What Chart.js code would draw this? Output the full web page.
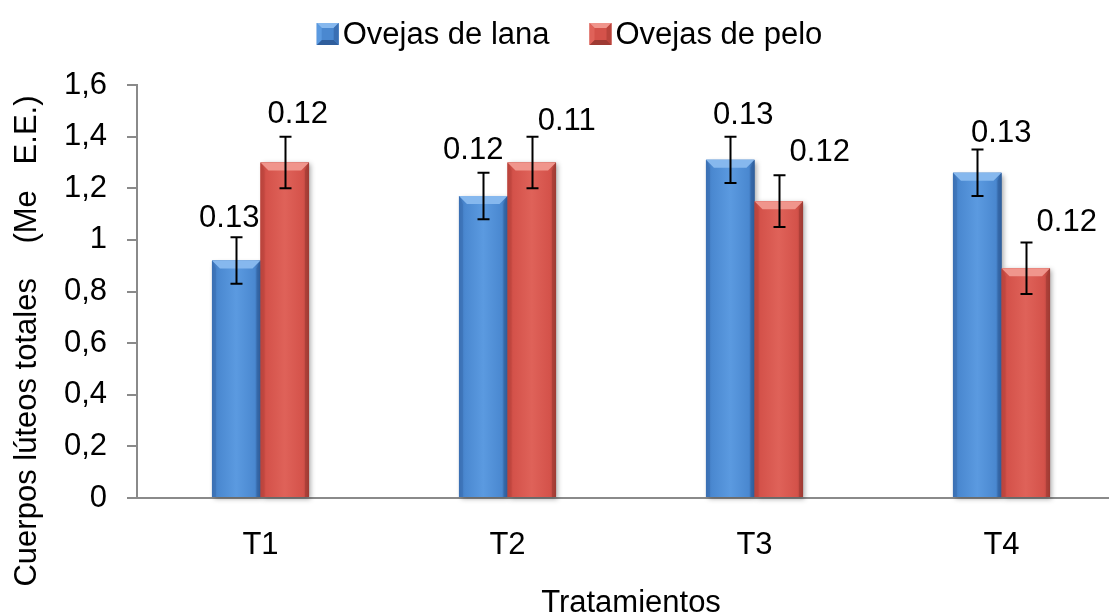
<!DOCTYPE html>
<html>
<head>
<meta charset="utf-8">
<script src="https://cdn.jsdelivr.net/npm/chart.js@4.4.0/dist/chart.umd.min.js"></script>
<style>
    html, body { margin: 0; padding: 0; background: #fff; overflow: hidden; }
</style>
</head>
<body>
<canvas id="chart" width="1139" height="614"></canvas>
<script>
'use strict'

let categories = ['T1', 'T2', 'T3', 'T4'],
    seriesNames = ['Ovejas de lana', 'Ovejas de pelo'],
    lana = [0.92, 1.17, 1.31, 1.26],
    pelo = [1.30, 1.30, 1.15, 0.89],
    lanaErr = [0.09, 0.09, 0.09, 0.09],
    peloErr = [0.10, 0.10, 0.10, 0.10],
    lanaLabels = ['0.13', '0.12', '0.13', '0.13'],
    peloLabels = ['0.12', '0.11', '0.12', '0.12'],
    xTitle = 'Tratamientos',
    yTitle = 'Cuerpos lúteos totales    (Me   E.E.)'

// label nudges (px) as placed in the original sheet
let lanaNudge = [[-7, 10], [-10, 14], [13, 13], [24, 8]],
    peloNudge = [[13, 14], [35, 7], [41, 14], [41, 11]]

const FAMILY = '"Liberation Sans", Arial, sans-serif'
const FONT = '31px ' + FAMILY

let palettes = [
    {base: '#4a88d0', light: '#5b9ae0', edge: '#3a6fb3', dark: '#2f5e9c', top: '#86b8ee', side: '#4280c8'},
    {base: '#d4524a', light: '#df6259', edge: '#b9443c', dark: '#9e3a33', top: '#f0958c', side: '#cc4b43'}
]

function bevelBar(ctx, el, p) {
    let l = el.x - el.width / 2, r = el.x + el.width / 2, t = el.y, b = el.base, w = r - l
    if (b - t < 1) return
    ctx.save()
    ctx.shadowColor = 'rgba(0,0,0,0.35)'
    ctx.shadowBlur = 5
    ctx.shadowOffsetX = 2
    ctx.shadowOffsetY = 2
    let g = ctx.createLinearGradient(l, 0, r, 0)
    g.addColorStop(0, p.edge)
    g.addColorStop(0.12, p.base)
    g.addColorStop(0.5, p.light)
    g.addColorStop(0.88, p.base)
    g.addColorStop(1, p.dark)
    ctx.fillStyle = g
    ctx.fillRect(l, t, w, b - t)
    ctx.restore()

    let d = 8, s = 4
    ctx.save()
    ctx.fillStyle = p.top
    ctx.beginPath()
    ctx.moveTo(l, t); ctx.lineTo(r, t); ctx.lineTo(r - d, t + d); ctx.lineTo(l + d, t + d)
    ctx.closePath(); ctx.fill()
    ctx.fillStyle = p.edge
    ctx.globalAlpha = 0.55
    ctx.beginPath()
    ctx.moveTo(l, t); ctx.lineTo(l + s, t + d); ctx.lineTo(l + s, b); ctx.lineTo(l, b)
    ctx.closePath(); ctx.fill()
    ctx.fillStyle = p.dark
    ctx.beginPath()
    ctx.moveTo(r, t); ctx.lineTo(r - s, t + d); ctx.lineTo(r - s, b); ctx.lineTo(r, b)
    ctx.closePath(); ctx.fill()
    ctx.restore()
}

function bevelIcon(ctx, x, y, size, p) {
    let i = 5
    ctx.save()
    ctx.fillStyle = p.base
    ctx.fillRect(x, y, size, size)
    ctx.fillStyle = p.top
    ctx.beginPath()
    ctx.moveTo(x, y); ctx.lineTo(x + size, y); ctx.lineTo(x + size - i, y + i); ctx.lineTo(x + i, y + i)
    ctx.closePath(); ctx.fill()
    ctx.fillStyle = p.dark
    ctx.beginPath()
    ctx.moveTo(x, y + size); ctx.lineTo(x + size, y + size); ctx.lineTo(x + size - i, y + size - i); ctx.lineTo(x + i, y + size - i)
    ctx.closePath(); ctx.fill()
    ctx.fillStyle = p.edge
    ctx.beginPath()
    ctx.moveTo(x + size, y); ctx.lineTo(x + size, y + size); ctx.lineTo(x + size - i, y + size - i); ctx.lineTo(x + size - i, y + i)
    ctx.closePath(); ctx.fill()
    ctx.fillStyle = p.light
    ctx.beginPath()
    ctx.moveTo(x, y); ctx.lineTo(x, y + size); ctx.lineTo(x + i, y + size - i); ctx.lineTo(x + i, y + i)
    ctx.closePath(); ctx.fill()
    ctx.restore()
}

let excelLook = {
    id: 'excelLook',
    afterDatasetsDraw(chart) {
        let ctx = chart.ctx,
            yScale = chart.scales.y
        chart.data.datasets.forEach((ds, di) => {
            let meta = chart.getDatasetMeta(di)
            meta.data.forEach(el => bevelBar(ctx, el, palettes[di]))
        })
        // error bars + value labels
        chart.data.datasets.forEach((ds, di) => {
            let meta = chart.getDatasetMeta(di)
            meta.data.forEach((el, i) => {
                let v = ds.data[i], e = ds.errors[i],
                    yTop = yScale.getPixelForValue(v + e),
                    yBot = yScale.getPixelForValue(v - e),
                    x = Math.round(el.x) + 0.5
                ctx.save()
                ctx.strokeStyle = '#000'
                ctx.lineWidth = 2
                ctx.beginPath()
                ctx.moveTo(x, yTop); ctx.lineTo(x, yBot)
                ctx.moveTo(x - 6, yTop); ctx.lineTo(x + 6, yTop)
                ctx.moveTo(x - 6, yBot); ctx.lineTo(x + 6, yBot)
                ctx.stroke()
                let n = ds.nudge[i]
                ctx.fillStyle = '#000'
                ctx.font = FONT
                ctx.textAlign = 'center'
                ctx.textBaseline = 'alphabetic'
                ctx.fillText(ds.valueLabels[i], el.x + n[0], yTop - n[1])
                ctx.restore()
            })
        })
    },
    afterDraw(chart) {
        let ctx = chart.ctx, area = chart.chartArea
        ctx.save()
        ctx.font = FONT
        ctx.fillStyle = '#000'
        // legend
        let box = 22, gapIcon = 4, gapItem = 40,
            widths = seriesNames.map(s => ctx.measureText(s).width),
            total = widths.reduce((a, w) => a + box + gapIcon + w, 0) + gapItem * (seriesNames.length - 1),
            x = chart.width / 2 - total / 2,
            yc = 34
        seriesNames.forEach((s, i) => {
            bevelIcon(ctx, x, yc - box / 2, box, palettes[i])
            x += box + gapIcon
            ctx.fillStyle = '#000'
            ctx.textAlign = 'left'
            ctx.textBaseline = 'middle'
            ctx.fillText(s, x, yc + 1)
            x += widths[i] + gapItem
        })
        // axis titles
        ctx.textAlign = 'center'
        ctx.textBaseline = 'alphabetic'
        ctx.fillText(xTitle, (area.left + area.right) / 2, 612)
        ctx.translate(36, 341)
        ctx.rotate(-Math.PI / 2)
        ctx.fillText(yTitle, 0, 0)
        ctx.restore()
    }
}

let config = {
    type: 'bar',
    data: {
        labels: categories,
        datasets: [
            {label: seriesNames[0], data: lana, errors: lanaErr, valueLabels: lanaLabels, nudge: lanaNudge,
                backgroundColor: palettes[0].base, borderWidth: 0},
            {label: seriesNames[1], data: pelo, errors: peloErr, valueLabels: peloLabels, nudge: peloNudge,
                backgroundColor: palettes[1].base, borderWidth: 0}
        ]
    },
    options: {
        responsive: false,
        animation: false,
        events: [],
        layout: {padding: {top: 85, right: 14, left: 0, bottom: 0}},
        datasets: {bar: {categoryPercentage: 0.393, barPercentage: 1.0}},
        plugins: {legend: {display: false}, tooltip: {enabled: false}},
        scales: {
            x: {
                grid: {display: false, drawTicks: false},
                border: {display: true, color: '#8a8a8a', width: 2},
                ticks: {color: '#000', font: {family: FAMILY, size: 31}, padding: 29},
                afterFit: s => { s.height = 116 }
            },
            y: {
                min: 0,
                max: 1.6,
                ticks: {
                    stepSize: 0.2,
                    color: '#000',
                    padding: 20,
                    font: {family: FAMILY, size: 31},
                    callback: v => String(Math.round(v * 10) / 10).replace('.', ',')
                },
                grid: {display: true, drawOnChartArea: false, drawTicks: true, tickLength: 10, color: '#8a8a8a', lineWidth: 2},
                border: {display: true, color: '#8a8a8a', width: 2},
                afterFit: s => { s.width = 137 }
            }
        }
    },
    plugins: [excelLook]
}

let myChart = new Chart(document.getElementById('chart'), config)
</script>
</body>
</html>
